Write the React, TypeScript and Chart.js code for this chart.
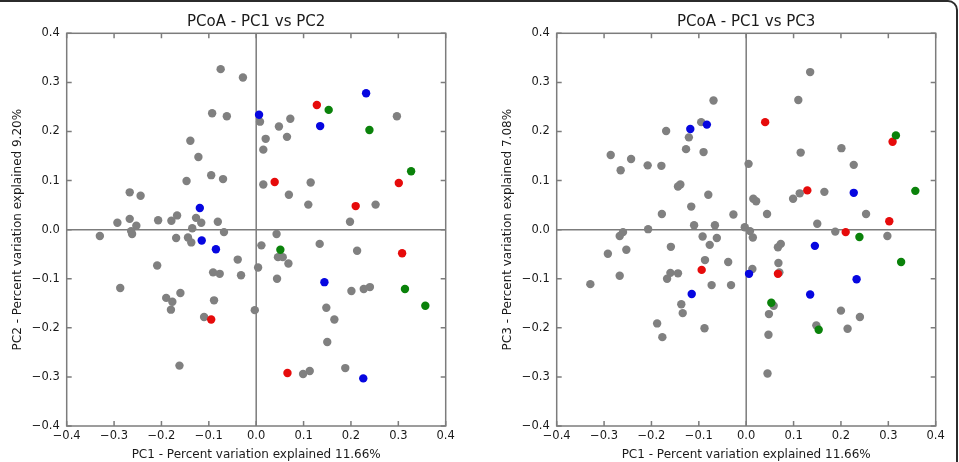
import React, { useEffect, useRef } from "react";
import { Chart, registerables } from "chart.js";

Chart.register(...registerables);

type Pt = [number, number];

const FONT = "'DejaVu Sans', 'Liberation Sans', sans-serif";
const AXIS_MIN = -0.4;
const AXIS_MAX = 0.4;
const AXIS_STEP = 0.1;

const pc1Title = "PC1 - Percent variation explained 11.66%";
const pc2Title = "PC2 - Percent variation explained 9.20%";
const pc3Title = "PC3 - Percent variation explained 7.08%";
const panelTitles = ["PCoA - PC1 vs PC2", "PCoA - PC1 vs PC3"];

const groupColors = {
  red: "#e60b0b",
  green: "#0a820a",
  blue: "#0606e0",
  other: "#808080",
};

// ---- PC1 vs PC2 ----
const pc12Red: Pt[] = [
  [0.128, 0.254], [0.039, 0.097], [0.301, 0.095], [0.21, 0.048],
  [0.308, -0.048], [-0.095, -0.183], [0.066, -0.292],
];
const pc12Green: Pt[] = [
  [0.153, 0.244], [0.239, 0.203], [0.327, 0.119], [0.051, -0.041],
  [0.314, -0.121], [0.357, -0.155],
];
const pc12Blue: Pt[] = [
  [0.232, 0.278], [0.006, 0.234], [0.135, 0.211], [-0.119, 0.044],
  [-0.115, -0.022], [-0.085, -0.04], [0.144, -0.107], [0.226, -0.303],
];
const pc12Other: Pt[] = [
  [-0.075, 0.327], [-0.028, 0.31], [-0.093, 0.237], [-0.062, 0.231],
  [-0.139, 0.181], [-0.122, 0.148], [-0.095, 0.111], [-0.147, 0.099],
  [-0.07, 0.103], [-0.267, 0.076], [-0.244, 0.069], [-0.293, 0.014],
  [-0.267, 0.022], [-0.253, 0.008], [-0.207, 0.019], [-0.179, 0.018],
  [-0.167, 0.029], [-0.127, 0.024], [-0.116, 0.014], [-0.135, 0.003],
  [-0.081, 0.016], [-0.068, -0.005], [-0.33, -0.013], [-0.264, -0.003],
  [-0.262, -0.009], [-0.169, -0.017], [-0.144, -0.016], [-0.137, -0.026],
  [-0.039, -0.061], [-0.091, -0.087], [-0.077, -0.09], [-0.032, -0.093],
  [-0.209, -0.073], [-0.287, -0.119], [-0.19, -0.139], [-0.177, -0.147],
  [-0.18, -0.163], [-0.16, -0.129], [-0.089, -0.144], [-0.11, -0.178],
  [-0.162, -0.277], [-0.003, -0.164], [0.043, -0.009], [0.011, -0.032],
  [0.046, -0.056], [0.056, -0.056], [0.068, -0.069], [0.004, -0.077],
  [0.044, -0.1], [0.134, -0.029], [0.213, -0.043], [0.201, -0.125],
  [0.227, -0.121], [0.24, -0.117], [0.148, -0.159], [0.165, -0.183],
  [0.15, -0.229], [0.099, -0.294], [0.113, -0.288], [0.188, -0.282],
  [0.008, 0.22], [0.072, 0.226], [0.048, 0.21], [0.065, 0.189],
  [0.02, 0.185], [0.015, 0.163], [0.297, 0.231], [0.015, 0.092],
  [0.115, 0.096], [0.069, 0.071], [0.11, 0.051], [0.252, 0.051],
  [0.198, 0.016],
];

// ---- PC1 vs PC3 ----
const pc13Red: Pt[] = [
  [0.04, 0.219], [0.309, 0.179], [0.129, 0.08], [0.302, 0.017],
  [0.21, -0.005], [-0.094, -0.082], [0.067, -0.09],
];
const pc13Green: Pt[] = [
  [0.316, 0.192], [0.357, 0.079], [0.239, -0.015], [0.327, -0.066],
  [0.053, -0.149], [0.153, -0.204],
];
const pc13Blue: Pt[] = [
  [-0.083, 0.214], [-0.118, 0.205], [0.227, 0.075], [0.145, -0.033],
  [0.006, -0.09], [0.233, -0.101], [-0.115, -0.131], [0.135, -0.132],
];
const pc13Other: Pt[] = [
  [-0.069, 0.263], [-0.095, 0.219], [-0.121, 0.188], [-0.169, 0.201],
  [-0.127, 0.164], [-0.09, 0.158], [-0.286, 0.152], [-0.243, 0.144],
  [-0.265, 0.121], [-0.208, 0.131], [-0.179, 0.13], [-0.144, 0.088],
  [-0.139, 0.092], [-0.08, 0.071], [-0.116, 0.047], [-0.178, 0.032],
  [-0.027, 0.031], [-0.11, 0.009], [-0.066, 0.009], [-0.207, 0.001],
  [-0.26, -0.005], [-0.267, -0.013], [-0.092, -0.014], [-0.062, -0.017],
  [0.005, 0.134], [-0.003, 0.005], [-0.077, -0.031], [-0.159, -0.035],
  [-0.292, -0.049], [-0.253, -0.041], [-0.267, -0.094], [-0.329, -0.111],
  [-0.087, -0.062], [-0.038, -0.066], [-0.144, -0.089], [-0.16, -0.088],
  [-0.167, -0.1], [-0.073, -0.113], [-0.032, -0.113], [-0.137, -0.152],
  [-0.134, -0.17], [-0.188, -0.191], [-0.177, -0.219], [-0.088, -0.201],
  [0.135, 0.321], [0.11, 0.264], [0.115, 0.157], [0.201, 0.166],
  [0.227, 0.132], [0.113, 0.074], [0.099, 0.063], [0.165, 0.077],
  [0.015, 0.063], [0.021, 0.058], [0.044, 0.032], [0.253, 0.032],
  [0.15, 0.012], [0.188, -0.004], [0.298, -0.013], [0.008, -0.003],
  [0.014, -0.016], [0.067, -0.036], [0.073, -0.029], [0.068, -0.068],
  [0.013, -0.08], [0.07, -0.087], [0.058, -0.155], [0.048, -0.172],
  [0.2, -0.165], [0.24, -0.178], [0.148, -0.195], [0.214, -0.202],
  [0.047, -0.214], [0.045, -0.293],
];

const toXY = (pts: Pt[]) => pts.map(([x, y]) => ({ x, y }));

const fmtTick = (v: number) => {
  if (Math.abs(v) < 1e-9) return "0.0";
  return (v < 0 ? "\u2212" : "") + Math.abs(v).toFixed(1);
};

// Frame, zero lines, inward ticks and the panel texts
const pcoaDecor = {
  id: "pcoaDecor",
  beforeDatasetsDraw(chart: any, _args: any, opts: any) {
    const { ctx, chartArea: a } = chart;
    const xs = chart.scales.x;
    const ys = chart.scales.y;
    ctx.save();
    ctx.strokeStyle = "#7c7c7c";
    ctx.lineWidth = 1.5;

    const x0 = xs.getPixelForValue(0);
    const y0 = ys.getPixelForValue(0);
    ctx.beginPath();
    ctx.moveTo(x0, a.top);
    ctx.lineTo(x0, a.bottom);
    ctx.moveTo(a.left, y0);
    ctx.lineTo(a.right, y0);
    ctx.stroke();

    const L = 5;
    ctx.beginPath();
    for (const t of xs.ticks) {
      const px = xs.getPixelForValue(t.value);
      ctx.moveTo(px, a.top);
      ctx.lineTo(px, a.top + L);
      ctx.moveTo(px, a.bottom);
      ctx.lineTo(px, a.bottom - L);
    }
    for (const t of ys.ticks) {
      const py = ys.getPixelForValue(t.value);
      ctx.moveTo(a.left, py);
      ctx.lineTo(a.left + L, py);
      ctx.moveTo(a.right, py);
      ctx.lineTo(a.right - L, py);
    }
    ctx.stroke();
    ctx.strokeRect(a.left, a.top, a.right - a.left, a.bottom - a.top);

    const cx = (a.left + a.right) / 2;
    const cy = (a.top + a.bottom) / 2;
    ctx.fillStyle = "#1a1a1a";
    ctx.textAlign = "center";
    ctx.textBaseline = "alphabetic";
    ctx.font = `15px ${FONT}`;
    ctx.fillText(opts.title, cx, 25.5);
    ctx.font = `12px ${FONT}`;
    ctx.fillText(opts.xTitle, cx, 457.5);
    ctx.translate(20.5, cy);
    ctx.rotate(-Math.PI / 2);
    ctx.fillText(opts.yTitle, 0, 0);
    ctx.restore();
  },
};

const axisOptions = (size: "w" | "h") => ({
  type: "linear" as const,
  min: AXIS_MIN,
  max: AXIS_MAX,
  ticks: {
    stepSize: AXIS_STEP,
    padding: size === "w" ? 7 : 3,
    color: "#1a1a1a",
    autoSkip: false,
    maxRotation: 0,
    font: { family: FONT, size: 11.5 },
    callback: (v: any) => fmtTick(Number(v)),
  },
  grid: { display: false, drawTicks: false },
  border: { display: false },
  afterFit: (s: any) => {
    if (size === "w") s.width = 66.7;
    else s.height = 36;
  },
});

function PcoaPanel(props: {
  left: number;
  title: string;
  yTitle: string;
  red: Pt[];
  green: Pt[];
  blue: Pt[];
  other: Pt[];
}) {
  const ref = useRef<HTMLCanvasElement | null>(null);
  useEffect(() => {
    if (!ref.current) return;
    const ds = (pts: Pt[], color: string) => ({
      data: toXY(pts),
      backgroundColor: color,
      borderWidth: 0,
      pointRadius: 4.2,
      pointHoverRadius: 4.2,
    });
    const chart = new Chart(ref.current, {
      type: "scatter",
      data: {
        datasets: [
          ds(props.blue, groupColors.blue),
          ds(props.green, groupColors.green),
          ds(props.red, groupColors.red),
          ds(props.other, groupColors.other),
        ],
      },
      options: {
        animation: false,
        responsive: false,
        devicePixelRatio: 1,
        events: [],
        layout: { padding: { top: 33.3, right: 23.3, bottom: 0, left: 0 } },
        plugins: {
          legend: { display: false },
          tooltip: { enabled: false },
          title: { display: false },
          pcoaDecor: { title: props.title, xTitle: pc1Title, yTitle: props.yTitle },
        } as any,
        scales: {
          x: axisOptions("h") as any,
          y: axisOptions("w") as any,
        },
      },
      plugins: [pcoaDecor],
    });
    return () => chart.destroy();
  }, []);
  return (
    <canvas
      ref={ref}
      width={469}
      height={462}
      style={{ position: "absolute", left: props.left, top: 0, width: 469, height: 462, display: "block" }}
    />
  );
}

export default function App() {
  return (
    <div
      style={{
        position: "absolute",
        left: 0,
        top: 0,
        width: 959,
        height: 462,
        overflow: "hidden",
        background: "#ffffff",
      }}
    >
      <PcoaPanel
        left={0}
        title={panelTitles[0]}
        yTitle={pc2Title}
        red={pc12Red}
        green={pc12Green}
        blue={pc12Blue}
        other={pc12Other}
      />
      <PcoaPanel
        left={490}
        title={panelTitles[1]}
        yTitle={pc3Title}
        red={pc13Red}
        green={pc13Green}
        blue={pc13Blue}
        other={pc13Other}
      />
      <div
        style={{
          position: "absolute",
          left: -20,
          top: 0,
          width: 978,
          height: 520,
          boxSizing: "border-box",
          border: "2px solid #2b2b2b",
          borderRadius: 10,
          pointerEvents: "none",
        }}
      />
    </div>
  );
}
